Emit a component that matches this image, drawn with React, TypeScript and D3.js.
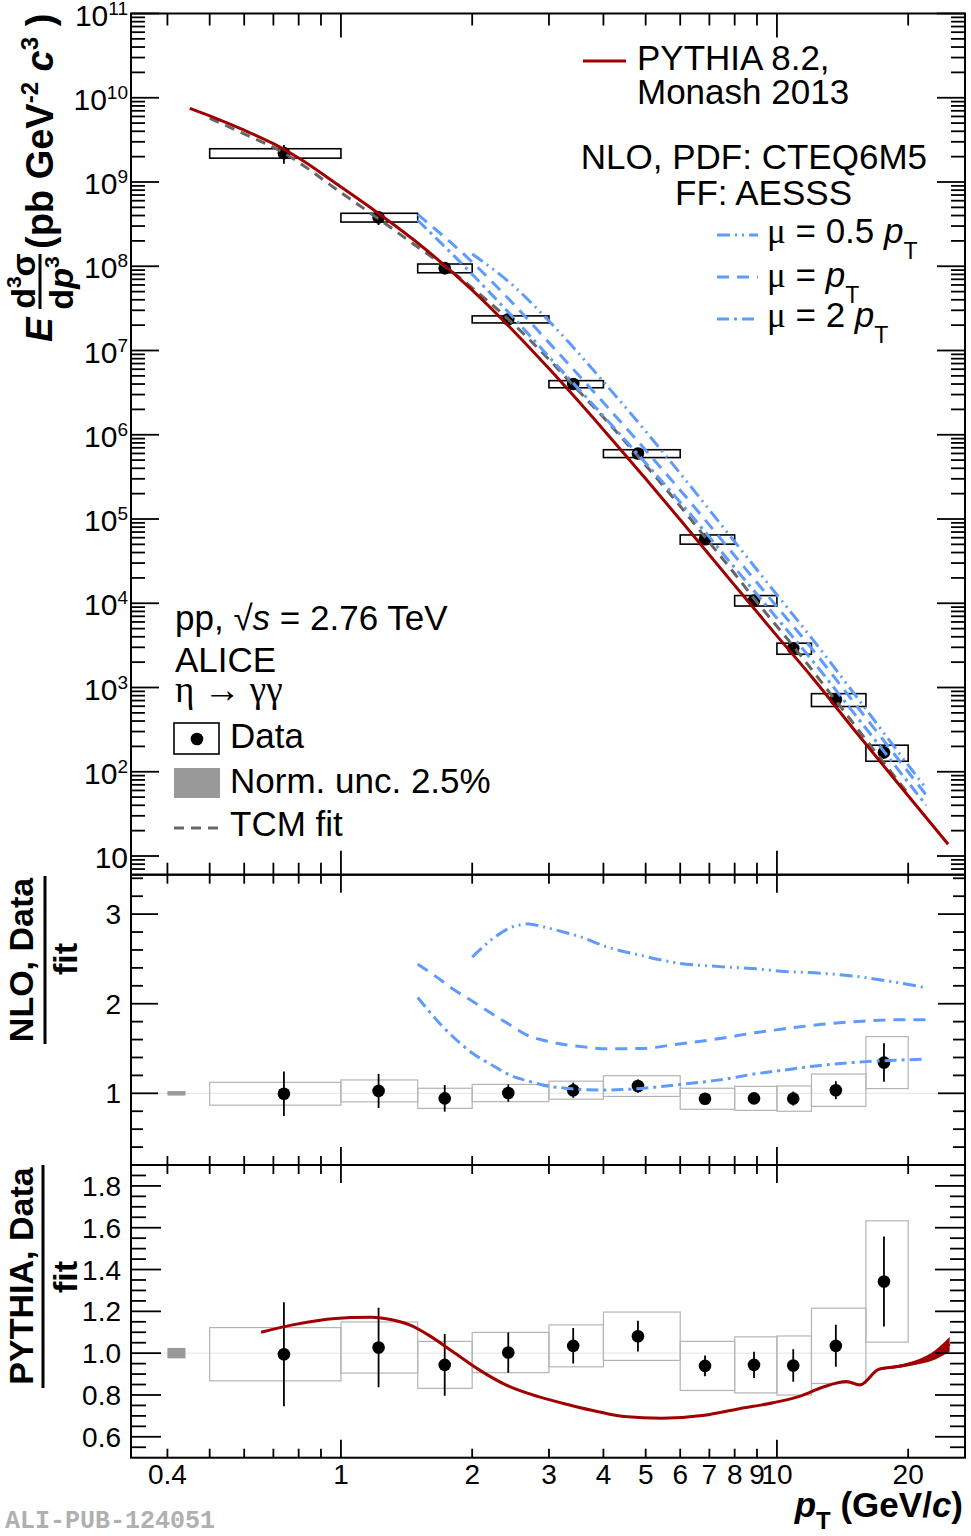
import React from 'react';
import * as d3 from 'd3';

// eta -> gamma gamma invariant cross section, pp at sqrt(s) = 2.76 TeV
const binLow = [0.5, 1.0, 1.5, 2.0, 3.0, 4.0, 6.0, 8.0, 10.0, 12.0, 16.0];
const binHigh = [1.0, 1.5, 2.0, 3.0, 4.0, 6.0, 8.0, 10.0, 12.0, 16.0, 20.0];
const dataPt = [0.74, 1.22, 1.73, 2.42, 3.41, 4.8, 6.84, 8.86, 10.9, 13.65, 17.6];
const dataYield = [2.2e9, 3.8e8, 9.5e7, 2.35e7, 4.0e6, 6.0e5, 5.75e4, 1.08e4, 2.92e3, 7.2e2, 1.7e2];
const dataOverFit = [0.995, 1.027, 0.944, 1.003, 1.035, 1.081, 0.939, 0.944, 0.941, 1.035, 1.343];
const statRel = [0.25, 0.185, 0.157, 0.096, 0.082, 0.068, 0.053, 0.066, 0.083, 0.097, 0.16];
const sysRel = [0.128, 0.119, 0.119, 0.096, 0.097, 0.107, 0.125, 0.142, 0.15, 0.174, 0.216];
const normUnc = 0.025;

// two-component model fit
const fitPt = [0.5, 0.6, 0.74, 1.0, 1.22, 1.5, 1.73, 2.0, 2.42, 3.0, 3.41, 4.0, 4.8, 6.0, 6.84, 8.0, 8.86, 10.9, 13.65, 17.6, 20];
const fitYield = [5.7e9, 3.72e9, 2.21e9, 7.5e8, 3.65e8, 1.69e8, 1.0e8, 5.55e7, 2.35e7, 7.85e6, 3.87e6, 1.61e6, 5.55e5, 1.42e5, 6.1e4, 2.24e4, 1.14e4, 3.1e3, 6.97e2, 1.27e2, 55];

// PYTHIA 8.2 Monash 2013
const pythiaPt = [0.45, 0.5, 0.6, 0.7, 0.8, 1.0, 1.2, 1.5, 2.0, 2.5, 3.0, 4.0, 5.0, 6.0, 8.0, 10, 12, 15, 20, 24.7];
const pythiaYield = [7.5e9, 6.1e9, 4.12e9, 2.85e9, 1.93e9, 8.73e8, 4.5e8, 1.89e8, 5.2e7, 1.66e7, 6.1e6, 1.15e6, 3.0e5, 9.8e4, 1.63e4, 4.1e3, 1.35e3, 3.2e2, 52, 13.8];

// NLO (CTEQ6M5 / AESSS), three scale choices
const nloPt = [1.5, 2, 2.5, 3, 4, 5, 6, 8, 10, 12, 15, 18, 22];
const nloHalfYield = [null, 1.40e8, 5.71e7, 2.24e7, 4.26e6, 1.10e6, 3.48e5, 5.37e4, 1.26e4, 3.88e3, 8.6e2, 2.46e2, 63];
const nloOneYield = [4.13e8, 1.12e8, 3.47e7, 1.24e7, 2.41e6, 6.55e5, 2.20e5, 3.67e4, 9.1e3, 2.93e3, 6.7e2, 2.0e2, 53];
const nloTwoYield = [3.52e8, 8.04e7, 2.38e7, 8.43e6, 1.67e6, 4.62e5, 1.58e5, 2.64e4, 6.65e3, 2.15e3, 5.0e2, 1.5e2, 40];

const ratioNloPt = [1.5, 1.7, 1.8, 2.0, 2.25, 2.45, 2.7, 2.9, 3.3, 3.5, 4.1, 4.9, 5.9, 7.4, 9.0, 10.2, 12.7, 15.7, 18.7, 22];
const nloHalfRatio = [null, null, null, 2.52, 2.74, 2.85, 2.89, 2.86, 2.79, 2.755, 2.63, 2.537, 2.455, 2.414, 2.389, 2.363, 2.34, 2.296, 2.24, 2.178];
const nloOneRatio = [2.44, 2.26, 2.17, 2.03, 1.87, 1.76, 1.64, 1.595, 1.54, 1.525, 1.497, 1.5, 1.548, 1.611, 1.68, 1.715, 1.77, 1.805, 1.822, 1.822];
const nloTwoRatio = [2.07, 1.76, 1.64, 1.45, 1.3, 1.2, 1.135, 1.093, 1.055, 1.044, 1.037, 1.055, 1.095, 1.15, 1.22, 1.255, 1.314, 1.351, 1.37, 1.381];

const ratioPyPt = [0.656, 0.77, 0.888, 1.052, 1.178, 1.28, 1.437, 1.609, 1.803, 2.076, 2.39, 2.836, 3.36, 3.87, 4.46, 5.44, 6.82, 8.09, 9.86, 11.36, 12.72, 14.45, 15.5, 17.13, 18.9, 21.2, 23.07, 24.9];
const pythiaRatio = [1.1, 1.134, 1.156, 1.17, 1.172, 1.163, 1.135, 1.079, 1.008, 0.92, 0.848, 0.792, 0.751, 0.721, 0.697, 0.689, 0.703, 0.732, 0.764, 0.796, 0.837, 0.864, 0.848, 0.923, 0.936, 0.96, 0.992, 1.043];
const pythiaRatioErr = [0, 0, 0, 0, 0, 0, 0, 0, 0, 0, 0, 0, 0, 0, 0, 0, 0, 0, 0, 0, 0, 0, 0, 0.005, 0.007, 0.012, 0.022, 0.035];

const xTickVals = [0.4, 1, 2, 3, 4, 5, 6, 7, 8, 9, 10, 20];
const xTickLabels = ['0.4', '1', '2', '3', '4', '5', '6', '7', '8', '9', '10', '20'];
const topExponents = [1, 2, 3, 4, 5, 6, 7, 8, 9, 10, 11];
const midTickVals = [1, 2, 3];
const botTickVals = [0.6, 0.8, 1.0, 1.2, 1.4, 1.6, 1.8];
const botTickLabels = ['0.6', '0.8', '1.0', '1.2', '1.4', '1.6', '1.8'];

const FONT = "'Liberation Sans', Arial, Helvetica, sans-serif";
const SERIF = "'Liberation Serif', 'Times New Roman', serif";
const RED = '#a00000';
const BLUE = '#5e9bfa';
const GREY = '#666666';
const BOXGREY = '#b4b4b4';

const L = 131, R = 965;
const TOP = [13.5, 874.7];
const MID = [874.7, 1165];
const BOT = [1165, 1457.7];

const x = d3.scaleLog().domain([0.33, 27]).range([L, R]);
const yTop = d3.scaleLog().domain([6, 1e11]).range([TOP[1], TOP[0]]);
const yMid = d3.scaleLinear().domain([0.2, 3.44]).range([MID[1], MID[0]]);
const yBot = d3.scaleLinear().domain([0.5, 1.9]).range([BOT[1], BOT[0]]);

const DASH_TCM = '10 7';
const DASH_HALF = '13 5 2 5 2 5';
const DASH_ONE = '12 8';
const DASH_TWO = '12 5 3 5';

type Pt = [number, number | null];
const zip = (a: number[], b: (number | null)[]): Pt[] => a.map((v, i) => [v, b[i]]);

const xMinor: { v: number; major: boolean }[] = [];
[-1, 0, 1].forEach(k => {
  for (let m = 1; m <= 9; m++) {
    const v = m * Math.pow(10, k);
    if (v > 0.335 && v < 26.9) xMinor.push({ v, major: m === 1 });
  }
});

const topYTicks: { v: number; major: boolean }[] = [];
for (let k = 0; k <= 11; k++) {
  for (let m = 1; m <= 9; m++) {
    const v = m * Math.pow(10, k);
    if (v > 6 && v <= 1e11) topYTicks.push({ v, major: m === 1 });
  }
}
const midYTicks: { v: number; major: boolean }[] = [];
for (let i = 2; i <= 17; i++) midYTicks.push({ v: i * 0.2, major: i % 5 === 0 });
const botYTicks: { v: number; major: boolean }[] = [];
for (let i = 11; i <= 37; i++) botYTicks.push({ v: i * 0.05, major: i % 4 === 0 });

function XTicks({ top, bottom, maj, min }: { top: number; bottom: number; maj: number; min: number }) {
  return (
    <g stroke="#000" strokeWidth={1.8}>
      {xMinor.map(t => {
        const px = x(t.v);
        const len = t.major ? maj : min;
        return (
          <g key={t.v}>
            <line x1={px} x2={px} y1={top} y2={top + len} />
            <line x1={px} x2={px} y1={bottom} y2={bottom - len} />
          </g>
        );
      })}
    </g>
  );
}

function YTicks({ ticks, y, maj, min }: { ticks: { v: number; major: boolean }[]; y: (v: number) => number; maj: number; min: number }) {
  return (
    <g stroke="#000" strokeWidth={1.8}>
      {ticks.map(t => {
        const py = y(t.v);
        const len = t.major ? maj : min;
        return (
          <g key={t.v}>
            <line x1={L} x2={L + len} y1={py} y2={py} />
            <line x1={R - len} x2={R} y1={py} y2={py} />
          </g>
        );
      })}
    </g>
  );
}

function RatioData({ y }: { y: (v: number) => number }) {
  return (
    <g>
      <line x1={L} x2={R} y1={y(1)} y2={y(1)} stroke="#e4e4e4" strokeWidth={1} />
      <rect x={x(0.4)} width={x(0.44) - x(0.4)} y={y(1 + normUnc)} height={y(1 - normUnc) - y(1 + normUnc)} fill="#999" />
      {dataPt.map((pt, i) => {
        const r = dataOverFit[i];
        return (
          <rect key={'b' + i} x={x(binLow[i])} width={x(binHigh[i]) - x(binLow[i])}
            y={y(r * (1 + sysRel[i]))} height={y(r * (1 - sysRel[i])) - y(r * (1 + sysRel[i]))}
            fill="none" stroke={BOXGREY} strokeWidth={1.2} />
        );
      })}
      {dataPt.map((pt, i) => {
        const r = dataOverFit[i];
        return (
          <g key={'p' + i}>
            <line x1={x(pt)} x2={x(pt)} y1={y(r * (1 + statRel[i]))} y2={y(r * (1 - statRel[i]))} stroke="#000" strokeWidth={1.8} />
            <circle cx={x(pt)} cy={y(r)} r={6.3} fill="#000" />
          </g>
        );
      })}
    </g>
  );
}

export default function App() {
  const topLine = d3.line<Pt>().defined(d => d[1] != null).x(d => x(d[0])).y(d => yTop(d[1] as number)).curve(d3.curveMonotoneX);
  const midLine = d3.line<Pt>().defined(d => d[1] != null).x(d => x(d[0])).y(d => yMid(d[1] as number)).curve(d3.curveMonotoneX);
  const botLine = d3.line<Pt>().x(d => x(d[0])).y(d => yBot(d[1] as number)).curve(d3.curveMonotoneX);
  const botBand = d3.area<number>()
    .x((_, i) => x(ratioPyPt[i]))
    .y0((r, i) => yBot(r - pythiaRatioErr[i]))
    .y1((r, i) => yBot(r + pythiaRatioErr[i]))
    .curve(d3.curveMonotoneX);

  return (
    <svg width={971} height={1536} style={{ position: 'absolute', left: 0, top: 0 }} fontFamily={FONT}>
      <rect width={971} height={1536} fill="#fff" />
      <defs>
        <clipPath id="clipTop"><rect x={L} y={TOP[0]} width={R - L} height={TOP[1] - TOP[0]} /></clipPath>
        <clipPath id="clipMid"><rect x={L} y={MID[0]} width={R - L} height={MID[1] - MID[0]} /></clipPath>
        <clipPath id="clipBot"><rect x={L} y={BOT[0]} width={R - L} height={BOT[1] - BOT[0]} /></clipPath>
      </defs>

      {/* ---------- spectrum panel ---------- */}
      <g clipPath="url(#clipTop)">
        {dataPt.map((pt, i) => {
          const v = dataYield[i];
          return (
            <rect key={'tb' + i} x={x(binLow[i])} width={x(binHigh[i]) - x(binLow[i])}
              y={yTop(v * (1 + sysRel[i]))} height={yTop(v * (1 - sysRel[i])) - yTop(v * (1 + sysRel[i]))}
              fill="none" stroke="#000" strokeWidth={1.6} />
          );
        })}
        {dataPt.map((pt, i) => (
          <g key={'tp' + i}>
            <line x1={x(pt)} x2={x(pt)} y1={yTop(dataYield[i] * (1 + statRel[i]))} y2={yTop(dataYield[i] * (1 - statRel[i]))} stroke="#000" strokeWidth={1.8} />
            <circle cx={x(pt)} cy={yTop(dataYield[i])} r={6.3} fill="#000" />
          </g>
        ))}
        <path d={topLine(zip(fitPt, fitYield)) || ''} fill="none" stroke={GREY} strokeWidth={3} strokeDasharray={DASH_TCM} />
        <path d={topLine(zip(nloPt, nloHalfYield)) || ''} fill="none" stroke={BLUE} strokeWidth={3} strokeDasharray={DASH_HALF} />
        <path d={topLine(zip(nloPt, nloOneYield)) || ''} fill="none" stroke={BLUE} strokeWidth={3} strokeDasharray={DASH_ONE} />
        <path d={topLine(zip(nloPt, nloTwoYield)) || ''} fill="none" stroke={BLUE} strokeWidth={3} strokeDasharray={DASH_TWO} />
        <path d={topLine(zip(pythiaPt, pythiaYield)) || ''} fill="none" stroke={RED} strokeWidth={3} />
      </g>
      <XTicks top={TOP[0]} bottom={TOP[1]} maj={24} min={12} />
      <YTicks ticks={topYTicks} y={yTop} maj={28} min={14} />
      <rect x={L} y={TOP[0]} width={R - L} height={TOP[1] - TOP[0]} fill="none" stroke="#000" strokeWidth={2} />
      {topExponents.map(k => (
        <text key={k} x={128} y={yTop(Math.pow(10, k)) + 12} textAnchor="end" fontSize={30}>
          10{k > 1 && <tspan fontSize={19} dy={-11}>{k}</tspan>}
        </text>
      ))}

      {/* ---------- NLO / fit ---------- */}
      <g clipPath="url(#clipMid)">
        <RatioData y={yMid} />
        <path d={midLine(zip(ratioNloPt, nloHalfRatio)) || ''} fill="none" stroke={BLUE} strokeWidth={3} strokeDasharray={DASH_HALF} />
        <path d={midLine(zip(ratioNloPt, nloOneRatio)) || ''} fill="none" stroke={BLUE} strokeWidth={3} strokeDasharray={DASH_ONE} />
        <path d={midLine(zip(ratioNloPt, nloTwoRatio)) || ''} fill="none" stroke={BLUE} strokeWidth={3} strokeDasharray={DASH_TWO} />
      </g>
      <XTicks top={MID[0]} bottom={MID[1]} maj={18} min={9} />
      <YTicks ticks={midYTicks} y={yMid} maj={27} min={12} />
      <rect x={L} y={MID[0]} width={R - L} height={MID[1] - MID[0]} fill="none" stroke="#000" strokeWidth={2} />
      {midTickVals.map(v => (
        <text key={v} x={121} y={yMid(v) + 10} textAnchor="end" fontSize={28}>{v}</text>
      ))}

      {/* ---------- PYTHIA / fit ---------- */}
      <g clipPath="url(#clipBot)">
        <RatioData y={yBot} />
        <path d={botBand(pythiaRatio) || ''} fill={RED} stroke="none" />
        <path d={botLine(zip(ratioPyPt, pythiaRatio)) || ''} fill="none" stroke={RED} strokeWidth={3} />
      </g>
      <XTicks top={BOT[0]} bottom={BOT[1]} maj={18} min={9} />
      <YTicks ticks={botYTicks} y={yBot} maj={30} min={15} />
      <rect x={L} y={BOT[0]} width={R - L} height={BOT[1] - BOT[0]} fill="none" stroke="#000" strokeWidth={2} />
      {botTickVals.map((v, i) => (
        <text key={v} x={121} y={yBot(v) + 10} textAnchor="end" fontSize={28}>{botTickLabels[i]}</text>
      ))}

      {/* x labels */}
      {xTickVals.map((v, i) => (
        <text key={v} x={x(v)} y={1484} textAnchor="middle" fontSize={28}>{xTickLabels[i]}</text>
      ))}
      <text x={963} y={1517} textAnchor="end" fontSize={35} fontWeight="bold" style={{ whiteSpace: 'pre' }}>
        <tspan fontStyle="italic">p</tspan>
        <tspan fontSize={24} dy={12}>T</tspan>
        <tspan dy={-12}> (GeV/</tspan>
        <tspan fontStyle="italic">c</tspan>)
      </text>

      {/* y titles */}
      <g transform="rotate(-90)" fontWeight="bold" style={{ whiteSpace: 'pre' }}>
        <text x={-342} y={52} fontSize={37} fontStyle="italic">E</text>
        <text x={-281} y={35} fontSize={34} textAnchor="middle">d<tspan fontSize={21} dy={-14}>3</tspan><tspan dy={14}>σ</tspan></text>
        <line x1={-309} x2={-254} y1={40} y2={40} stroke="#000" strokeWidth={3} />
        <text x={-283} y={73} fontSize={34} textAnchor="middle">d<tspan fontStyle="italic">p</tspan><tspan fontSize={21} dy={-14}>3</tspan></text>
        <text x={-249} y={53} fontSize={38}>(pb GeV<tspan fontSize={24} dy={-15}>-2</tspan><tspan dy={15}>  </tspan><tspan fontStyle="italic">c</tspan><tspan fontSize={24} dy={-15}>3</tspan><tspan dy={15}>  )</tspan></text>

        <text x={-960} y={33} fontSize={34} textAnchor="middle">NLO, Data</text>
        <line x1={-1044} x2={-876} y1={45} y2={45} stroke="#000" strokeWidth={3} />
        <text x={-959} y={77} fontSize={34} textAnchor="middle">fit</text>

        <text x={-1276} y={33} fontSize={34} textAnchor="middle">PYTHIA, Data</text>
        <line x1={-1388} x2={-1165} y1={43} y2={43} stroke="#000" strokeWidth={3} />
        <text x={-1277} y={77} fontSize={34} textAnchor="middle">fit</text>
      </g>

      {/* top-right legend */}
      <g fontSize={35} style={{ whiteSpace: 'pre' }}>
        <line x1={583} x2={626} y1={61} y2={61} stroke={RED} strokeWidth={3} />
        <text x={637} y={70}>PYTHIA 8.2,</text>
        <text x={637} y={104}>Monash 2013</text>
        <text x={927} y={169} textAnchor="end">NLO, PDF: CTEQ6M5</text>
        <text x={675} y={205}>FF: AESSS</text>
        <line x1={717} x2={758} y1={235} y2={235} stroke={BLUE} strokeWidth={3} strokeDasharray={DASH_HALF} />
        <line x1={717} x2={758} y1={277} y2={277} stroke={BLUE} strokeWidth={3} strokeDasharray={DASH_ONE} />
        <line x1={717} x2={758} y1={319} y2={319} stroke={BLUE} strokeWidth={3} strokeDasharray={DASH_TWO} />
        <text x={767} y={243}><tspan fontFamily={SERIF}>μ</tspan> = 0.5 <tspan fontStyle="italic">p</tspan><tspan fontSize={23} dy={16}>T</tspan></text>
        <text x={767} y={287}><tspan fontFamily={SERIF}>μ</tspan> = <tspan fontStyle="italic">p</tspan><tspan fontSize={23} dy={16}>T</tspan></text>
        <text x={767} y={327}><tspan fontFamily={SERIF}>μ</tspan> = 2 <tspan fontStyle="italic">p</tspan><tspan fontSize={23} dy={16}>T</tspan></text>
      </g>

      {/* bottom-left legend */}
      <g fontSize={35} style={{ whiteSpace: 'pre' }}>
        <text x={175} y={630}>pp, √<tspan fontStyle="italic">s</tspan> = 2.76 TeV</text>
        <text x={175} y={672}>ALICE</text>
        <text x={175} y={702} fontFamily={SERIF} fontSize={37}>η → γγ</text>
        <rect x={174} y={723} width={45} height={31} fill="none" stroke="#000" strokeWidth={1.6} />
        <circle cx={197} cy={739} r={6.3} fill="#000" />
        <text x={230} y={748}>Data</text>
        <rect x={174} y={768} width={46} height={30} fill="#999" />
        <text x={230} y={793}>Norm. unc. 2.5%</text>
        <line x1={174} x2={221} y1={828} y2={828} stroke={GREY} strokeWidth={3} strokeDasharray={DASH_TCM} />
        <text x={230} y={836}>TCM fit</text>
      </g>

      <text x={5} y={1528} fontFamily="'Liberation Mono', 'Courier New', monospace" fontWeight="bold" fontSize={25} fill="#b0b0b0">ALI-PUB-124051</text>
    </svg>
  );
}
